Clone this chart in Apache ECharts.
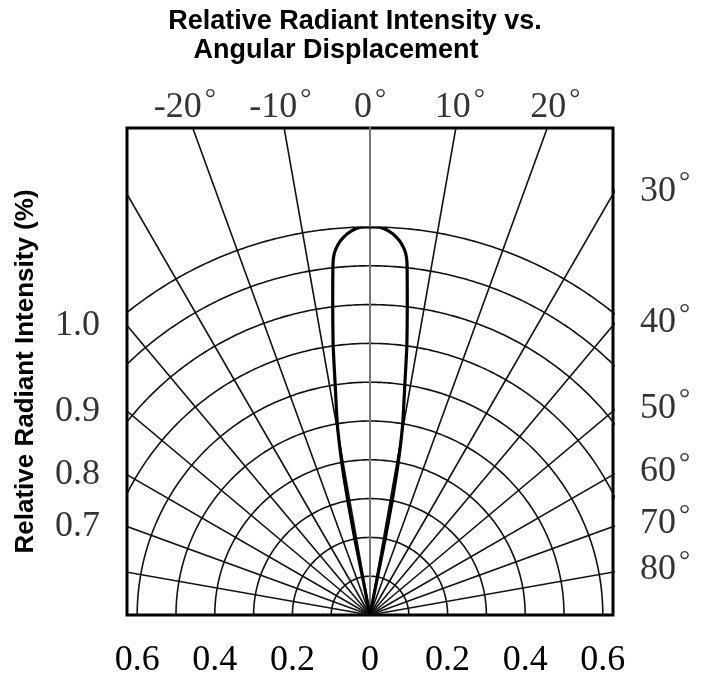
<!DOCTYPE html>
<html><head><meta charset="utf-8">
<script src="https://cdn.jsdelivr.net/npm/echarts@6/dist/echarts.min.js"></script>
<style>html,body{margin:0;padding:0;background:#fff}#c{width:708px;height:680px}</style>
</head><body><div id="c"></div>
<script>
// ---- data ----
const lobeAngles    = [-11.0,-11.2,-11.3,-11.0,-10.5,-9.7,-8.6,-7.8,-6.9,-6.0,-5.65,-4.95,-3.95,-2.75,-1.4,0,1.4,2.75,3.95,4.95,5.65,6.0,6.9,7.8,8.6,9.7,10.5,11.0,11.3,11.2,11.0];
const lobeIntensity = [0,0.1,0.2,0.3,0.4,0.5,0.6,0.7,0.8,0.912,0.936,0.958,0.977,0.991,0.9997,1.0,0.9997,0.991,0.977,0.958,0.936,0.912,0.8,0.7,0.6,0.5,0.4,0.3,0.2,0.1,0];
const gridRadii   = [0.1,0.2,0.3,0.4,0.5,0.6,0.7,0.8,0.9,1.0];
const spokeAngles = [-80,-70,-60,-50,-40,-30,-20,-10,0,10,20,30,40,50,60,70,80];
const topTickAngles   = [-20,-10,0,10,20];
const rightTickAngles = [30,40,50,60,70,80];
const leftTickAngles  = [-40,-50,-60,-70];
const leftTickLabels  = ['1.0','0.9','0.8','0.7'];
const bottomTicks     = [-0.6,-0.4,-0.2,0,0.2,0.4,0.6];

// ---- layout ----
const PX = 388;                 // pixels per unit intensity
const GL = 127, GT = 128, GW = 486, GH = 487;
const XH = (GW/2)/PX, YM = GH/PX;
const TOP_LABEL_H = (615-106)/PX;
const SERIF = 'Liberation Serif', SANS = 'Liberation Sans';
const d2r = Math.PI/180;
const GRIDC = '#111';

const arcSamples = [];
for (let a=-90; a<=90; a+=0.5) arcSamples.push(a);

const series = [];
gridRadii.forEach(r => series.push({
  type:'line', xAxisIndex:0, yAxisIndex:0, clip:true, silent:true, symbol:'none', z:2,
  lineStyle:{color:GRIDC, width:1.6}, animation:false,
  data: arcSamples.map(a => [r*Math.sin(a*d2r), r*Math.cos(a*d2r)])
}));
spokeAngles.forEach(a => series.push({
  type:'line', xAxisIndex:0, yAxisIndex:0, clip:true, silent:true, symbol:'none', z:2,
  lineStyle: a===0 ? {color:'#777', width:2} : {color:GRIDC, width:1.6}, animation:false,
  data: [[0,0],[3*Math.sin(a*d2r), 3*Math.cos(a*d2r)]]
}));
// lobe in polar coordinates
series.push({
  type:'line', coordinateSystem:'polar', polarIndex:0, symbol:'none', smooth:0.15, z:5,
  lineStyle:{color:'#000', width:3.2}, animation:false,
  data: lobeAngles.map((a,i) => [lobeIntensity[i], a])
});
const lblStyle = {color:'#000', fontFamily:SERIF, fontSize:36};
const degRich = {
  n:{fontFamily:SERIF, fontSize:36, color:'#000', verticalAlign:'bottom', padding:[4,0,0,0]},
  d:{fontFamily:SERIF, fontSize:28, color:'#000', verticalAlign:'top', padding:[0,0,0,3]}
};
// top angle labels
series.push({
  type:'scatter', clip:false, silent:true, symbolSize:0, animation:false,
  label:{show:true, position:'inside', formatter: p => '{n|'+p.data.name+'}{d|°}', rich:degRich, ...lblStyle},
  data: topTickAngles.map(a => ({name: String(a), value:[TOP_LABEL_H*Math.tan(a*d2r), TOP_LABEL_H]}))
});
// right angle labels
series.push({
  type:'scatter', clip:false, silent:true, symbolSize:0, animation:false,
  label:{show:true, position:'right', distance:27, offset:[0,-5], formatter: p => '{n|'+p.data.name+'}{d|°}', rich:degRich, ...lblStyle},
  data: rightTickAngles.map(a => ({name: String(a), value:[XH, XH/Math.tan(a*d2r)]}))
});
// left intensity labels
series.push({
  type:'scatter', clip:false, silent:true, symbolSize:0, animation:false,
  label:{show:true, position:'left', distance:27, formatter: p => p.data.name, ...lblStyle},
  data: leftTickAngles.map((a,i) => ({name: leftTickLabels[i], value:[-XH, XH/Math.tan(-a*d2r)]}))
});

const chart = echarts.init(document.getElementById('c'), null, {renderer:'canvas'});
chart.setOption({
  animation:false,
  backgroundColor:'#fff',
  grid:{left:GL, top:GT, width:GW, height:GH, show:true, borderColor:'#000', borderWidth:3, backgroundColor:'transparent'},
  xAxis:{type:'value', min:-XH, max:XH, axisLine:{show:false}, axisTick:{show:false}, splitLine:{show:false},
    axisLabel:{customValues:bottomTicks, margin:28, formatter: v => (Math.abs(v)<1e-9 ? '0' : Math.abs(v).toFixed(1)), ...lblStyle}},
  yAxis:{type:'value', min:0, max:YM, axisLine:{show:false}, axisTick:{show:false}, splitLine:{show:false}, axisLabel:{show:false},
    name:'Relative Radiant Intensity (%)', nameLocation:'middle', nameGap:88, nameRotate:90,
    nameTextStyle:{fontFamily:SANS, fontWeight:'bold', fontSize:26, color:'#000'}},
  polar:{center:[GL+GW/2, GT+GH], radius:PX},
  angleAxis:{type:'value', min:-180, max:180, startAngle:270, clockwise:true, show:false},
  radiusAxis:{type:'value', min:0, max:1, show:false},
  graphic:[
    {type:'text', x:355, y:22, style:{text:'Relative Radiant Intensity vs.', fontFamily:SANS, fontWeight:'bold', fontSize:27, fill:'#000', align:'center', verticalAlign:'middle'}},
    {type:'text', x:336, y:51, style:{text:'Angular Displacement', fontFamily:SANS, fontWeight:'bold', fontSize:27, fill:'#000', align:'center', verticalAlign:'middle'}}
  ],
  series
});
</script></body></html>
